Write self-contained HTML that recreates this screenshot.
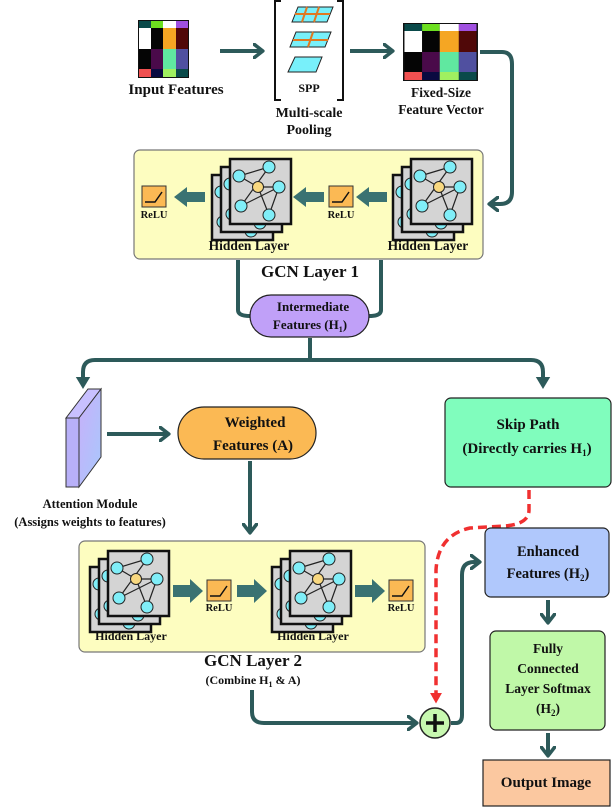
<!DOCTYPE html>
<html><head><meta charset="utf-8"><style>
html,body{margin:0;padding:0;background:#fff}
svg{display:block}
text{font-family:"Liberation Serif",serif;font-weight:bold;fill:#111;text-anchor:middle}
</style></head><body>
<svg width="612" height="807" viewBox="0 0 612 807" xmlns="http://www.w3.org/2000/svg">
<defs>
<marker id="ah" markerWidth="4" markerHeight="4" refX="2.2" refY="2" orient="auto" markerUnits="strokeWidth">
<path d="M0.2,0.3 L2.4,2 L0.2,3.7" fill="none" stroke="#2d5a5a" stroke-width="0.9" stroke-linecap="round" stroke-linejoin="round"/>
</marker>
<marker id="ahf" markerWidth="4" markerHeight="4" refX="2" refY="2" orient="auto" markerUnits="strokeWidth">
<path d="M0,0.2 L3,2 L0,3.8z" fill="#2d5a5a"/>
</marker>
<marker id="ahr" markerWidth="4" markerHeight="4" refX="2" refY="2" orient="auto" markerUnits="strokeWidth">
<path d="M0,0.3 L3,2 L0,3.7z" fill="#f03030"/>
</marker>
<linearGradient id="slab" x1="0" y1="0" x2="1" y2="1">
<stop offset="0" stop-color="#c8b0fa"/><stop offset="1" stop-color="#a8c8fc"/>
</linearGradient>
<g id="graph">
<rect x="0" y="0" width="61" height="65" fill="#d4d4d4" stroke="#111" stroke-width="2.5"/>
<g stroke="#222" stroke-width="1.2">
<line x1="9" y1="17" x2="39" y2="8"/><line x1="9" y1="17" x2="28" y2="28"/>
<line x1="28" y1="28" x2="49" y2="28"/><line x1="39" y1="8" x2="11" y2="47"/>
<line x1="28" y1="28" x2="39" y2="56"/><line x1="11" y1="47" x2="49" y2="28"/>
<line x1="49" y1="28" x2="39" y2="56"/>
</g>
<g fill="#80eef8" stroke="#222" stroke-width="1">
<circle cx="9" cy="17" r="6"/><circle cx="39" cy="8" r="6"/><circle cx="49" cy="28" r="6"/>
<circle cx="11" cy="47" r="6"/><circle cx="39" cy="56" r="6"/>
</g>
<circle cx="28" cy="28" r="5.5" fill="#f8d880" stroke="#222" stroke-width="1"/>
</g>
<g id="stack">
<use href="#graph" x="-18" y="16"/><use href="#graph" x="-9" y="8"/><use href="#graph" x="0" y="0"/>
</g>
<g id="relu">
<rect x="0" y="0" width="24" height="21" fill="#fbb954" stroke="#333" stroke-width="1"/>
<path d="M3,16 L13,16 L20,6" fill="none" stroke="#111" stroke-width="1.5"/>
</g>
<g id="grid">
<rect width="51" height="58" fill="#111"/>
<rect x="1" y="1" width="12" height="7" fill="#0a4a4a"/><rect x="13" y="1" width="12" height="7" fill="#6de020"/><rect x="25" y="1" width="13" height="7" fill="#fff"/><rect x="38" y="1" width="12" height="7" fill="#a050e0"/>
<rect x="1" y="8" width="12" height="21" fill="#fff"/><rect x="13" y="8" width="12" height="21" fill="#050505"/><rect x="25" y="8" width="13" height="21" fill="#f5a623"/><rect x="38" y="8" width="12" height="21" fill="#500808"/>
<rect x="1" y="29" width="12" height="20" fill="#050505"/><rect x="13" y="29" width="12" height="20" fill="#4a0a4a"/><rect x="25" y="29" width="13" height="20" fill="#60e8a0"/><rect x="38" y="29" width="12" height="20" fill="#5050a0"/>
<rect x="1" y="49" width="12" height="8" fill="#f05050"/><rect x="13" y="49" width="12" height="8" fill="#0a0a40"/><rect x="25" y="49" width="13" height="8" fill="#a0f060"/><rect x="38" y="49" width="12" height="8" fill="#0a4a4a"/>
</g>
</defs>

<!-- Input grid -->
<use href="#grid" x="138" y="20"/>
<text x="176" y="94" font-size="15">Input Features</text>
<line x1="220" y1="51" x2="262" y2="51" stroke="#2d5a5a" stroke-width="4" marker-end="url(#ah)"/>

<!-- SPP -->
<path d="M281,1 L275,1 L275,100 L281,100 M337,1 L343,1 L343,100 L337,100" fill="none" stroke="#111" stroke-width="2"/>
<g fill="#78f0fa" stroke="#222" stroke-width="1">
<polygon points="298,7 333,7 327,22 292,22"/>
<polygon points="296,32 331,32 325,47 290,47"/>
<polygon points="295,57 322,57 316,72 288,72"/>
</g>
<g stroke="#e07820" stroke-width="2">
<line x1="295" y1="14" x2="330" y2="14"/><line x1="307" y1="7" x2="302" y2="22"/><line x1="319" y1="7" x2="314" y2="22"/>
<line x1="293" y1="40" x2="328" y2="40"/><line x1="313" y1="32" x2="308" y2="47"/>
</g>
<text x="309" y="92" font-size="12">SPP</text>
<text x="309" y="117" font-size="14">Multi-scale</text>
<text x="309" y="134" font-size="14">Pooling</text>
<line x1="350" y1="51" x2="392" y2="51" stroke="#2d5a5a" stroke-width="4" marker-end="url(#ah)"/>

<!-- Fixed-size vector -->
<g transform="translate(403,23) scale(1.47,1)"><use href="#grid"/></g>
<text x="441" y="97" font-size="13.5">Fixed-Size</text>
<text x="441" y="114" font-size="13.5">Feature Vector</text>
<path d="M480,52 L502,52 Q512,52 512,64 L512,192 Q512,204 500,204 L490,204" fill="none" stroke="#2d5a5a" stroke-width="4" marker-end="url(#ah)"/>

<!-- GCN layer 1 -->
<rect x="134" y="150" width="349" height="109" rx="6" fill="#fdfdc0" stroke="#777" stroke-width="1.2"/>
<use href="#stack" x="411" y="159"/>
<use href="#stack" x="230" y="159"/>
<g fill="#3a7272">
<polygon points="387,192 369,192 369,187 356,197 369,207 369,202 387,202"/>
<polygon points="324,192 306,192 306,187 293,197 306,207 306,202 324,202"/>
<polygon points="205,192 187,192 187,187 174,197 187,207 187,202 205,202"/>
</g>
<use href="#relu" x="329" y="186"/>
<text x="341" y="218" font-size="10.5">ReLU</text>
<use href="#relu" x="142" y="186"/>
<text x="154" y="218" font-size="10.5">ReLU</text>
<text x="249" y="250" font-size="13.5">Hidden Layer</text>
<text x="428" y="250" font-size="13.5">Hidden Layer</text>
<text x="310" y="277" font-size="17">GCN Layer 1</text>
<path d="M238,260 L238,310 Q238,316 250,316 M381,260 L381,310 Q381,316 369,316" fill="none" stroke="#2d5a5a" stroke-width="4"/>
<rect x="250" y="295" width="119" height="42" rx="21" fill="#c0a0f8" stroke="#222" stroke-width="1.2"/>
<text x="313" y="311" font-size="13">Intermediate</text>
<text x="310" y="329" font-size="13">Features (H<tspan font-size="8" dy="3">1</tspan><tspan dy="-3">)</tspan></text>

<!-- split -->
<path d="M310,338 L310,360" fill="none" stroke="#2d5a5a" stroke-width="4"/>
<path d="M310,360 L95,360 Q83,360 83,372 L83,385" fill="none" stroke="#2d5a5a" stroke-width="4" marker-end="url(#ahf)"/>
<path d="M310,360 L531,360 Q543,360 543,372 L543,385" fill="none" stroke="#2d5a5a" stroke-width="4" marker-end="url(#ahf)"/>

<!-- attention -->
<polygon points="66,418 79,418 101,389 88,389" fill="#c8c0ff" stroke="#333" stroke-width="1"/>
<polygon points="79,418 101,389 101,457 79,487" fill="url(#slab)" stroke="#333" stroke-width="1"/>
<polygon points="66,418 79,418 79,487 66,487" fill="#b8b0f8" stroke="#333" stroke-width="1"/>
<text x="90" y="508" font-size="12.5">Attention Module</text>
<text x="90" y="526" font-size="12.5">(Assigns weights to features)</text>
<line x1="107" y1="434" x2="168" y2="434" stroke="#2d5a5a" stroke-width="4" marker-end="url(#ah)"/>
<rect x="178" y="407" width="138" height="52" rx="26" fill="#fbb954" stroke="#222" stroke-width="1.2"/>
<text x="255" y="427" font-size="15">Weighted</text>
<text x="253" y="450" font-size="15">Features (A)</text>
<line x1="250" y1="461" x2="250" y2="532" stroke="#2d5a5a" stroke-width="4" marker-end="url(#ah)"/>

<!-- skip path -->
<rect x="445" y="398" width="166" height="89" rx="6" fill="#80fdbd" stroke="#222" stroke-width="1.2"/>
<text x="528" y="429" font-size="15">Skip Path</text>
<text x="527" y="453" font-size="15">(Directly carries H<tspan font-size="9" dy="3">1</tspan><tspan dy="-3">)</tspan></text>
<path d="M529,490 L529,510 Q529,524 505,526 L470,528 Q438,535 436,570 L436,700" fill="none" stroke="#f03030" stroke-width="3.5" stroke-dasharray="9,5" marker-end="url(#ahr)"/>

<!-- GCN layer 2 -->
<rect x="79" y="541" width="346" height="111" rx="6" fill="#fdfdc0" stroke="#777" stroke-width="1.2"/>
<use href="#stack" x="108" y="551"/>
<use href="#stack" x="290" y="551"/>
<g fill="#3a7272">
<polygon points="173,585 190,585 190,579 203,591 190,603 190,597 173,597"/>
<polygon points="237,585 254,585 254,579 267,591 254,603 254,597 237,597"/>
<polygon points="355,585 372,585 372,579 385,591 372,603 372,597 355,597"/>
</g>
<use href="#relu" x="207" y="580"/>
<text x="219" y="611" font-size="10.5">ReLU</text>
<use href="#relu" x="389" y="580"/>
<text x="401" y="611" font-size="10.5">ReLU</text>
<text x="131" y="640" font-size="12">Hidden Layer</text>
<text x="313" y="640" font-size="12">Hidden Layer</text>
<text x="253" y="666" font-size="17">GCN Layer 2</text>
<text x="253" y="684" font-size="12">(Combine H<tspan font-size="8" dy="3">1</tspan><tspan dy="-3"> &amp; A)</tspan></text>
<path d="M252,690 L252,712 Q252,723 264,723 L416,723" fill="none" stroke="#2d5a5a" stroke-width="4" marker-end="url(#ah)"/>
<circle cx="435" cy="723" r="15" fill="#c8f8b0" stroke="#222" stroke-width="1.5"/>
<path d="M426,723 L444,723 M435,714 L435,732" stroke="#111" stroke-width="3.5"/>
<path d="M451,723 L456,723 Q462,723 462,715 L462,575 Q462,562 474,562 L479,562" fill="none" stroke="#2d5a5a" stroke-width="4" marker-end="url(#ah)"/>

<!-- right column -->
<rect x="485" y="528" width="124" height="69" rx="6" fill="#b0c8fc" stroke="#222" stroke-width="1.2"/>
<text x="548" y="556" font-size="14.5">Enhanced</text>
<text x="548" y="578" font-size="14.5">Features (H<tspan font-size="9" dy="3">2</tspan><tspan dy="-3">)</tspan></text>
<line x1="548" y1="600" x2="548" y2="622" stroke="#2d5a5a" stroke-width="4" marker-end="url(#ah)"/>
<rect x="490" y="631" width="115" height="99" rx="6" fill="#c0f8a8" stroke="#222" stroke-width="1.2"/>
<text x="548" y="653" font-size="13.5">Fully</text>
<text x="548" y="673" font-size="13.5">Connected</text>
<text x="548" y="693" font-size="13.5">Layer Softmax</text>
<text x="548" y="713" font-size="13.5">(H<tspan font-size="9" dy="3">2</tspan><tspan dy="-3">)</tspan></text>
<line x1="548" y1="733" x2="548" y2="755" stroke="#2d5a5a" stroke-width="4" marker-end="url(#ah)"/>
<rect x="483" y="760" width="127" height="46" fill="#fbc8a0" stroke="#222" stroke-width="1.2"/>
<text x="546" y="787" font-size="15">Output Image</text>
</svg>
</body></html>
